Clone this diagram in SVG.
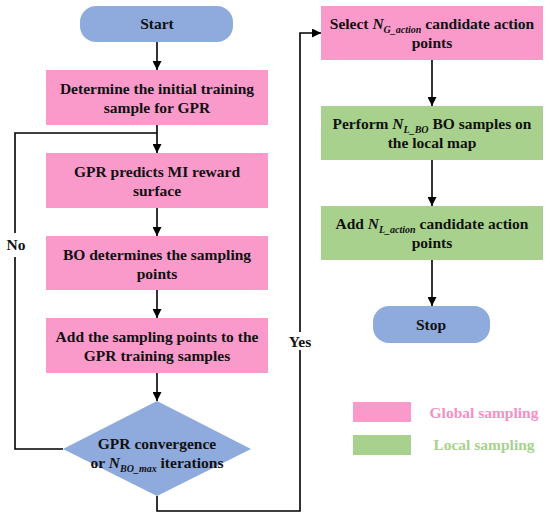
<svg xmlns="http://www.w3.org/2000/svg" width="550" height="518" viewBox="0 0 550 518">
<defs>
<marker id="arr" viewBox="0 0 10 10" refX="10" refY="5" markerWidth="9" markerHeight="9" markerUnits="userSpaceOnUse" orient="auto"><path d="M0,0 L10,5 L0,10 z" fill="#000"/></marker>
<style>
text{font-family:'Liberation Serif','Times New Roman','DejaVu Serif',serif}
.t{font-weight:bold;font-size:15.5px;fill:#111;text-anchor:middle}
.pink{fill:#FA9ACB}
.green{fill:#A9D18E}
.blue{fill:#8FAADC}
.ln{stroke:#000;stroke-width:1.6;fill:none}
.i{font-style:italic}
.sub{font-style:italic;font-size:10px}
</style>
</defs>
<rect width="550" height="518" fill="#fff"/>
<g id="connectors">
<line class="ln" x1="157" y1="42" x2="157" y2="70" marker-end="url(#arr)"/>
<line class="ln" x1="157" y1="125" x2="157" y2="153" marker-end="url(#arr)"/>
<line class="ln" x1="157" y1="208" x2="157" y2="236" marker-end="url(#arr)"/>
<line class="ln" x1="157" y1="290" x2="157" y2="318" marker-end="url(#arr)"/>
<line class="ln" x1="157" y1="373" x2="157" y2="401" marker-end="url(#arr)"/>
<polyline class="ln" points="63,449 15,449 15,133 157,133"/>
<polyline class="ln" points="157,496 157,511 300,511 300,33 321,33" marker-end="url(#arr)"/>
<line class="ln" x1="432" y1="60" x2="432" y2="106" marker-end="url(#arr)"/>
<line class="ln" x1="432" y1="160" x2="432" y2="206" marker-end="url(#arr)"/>
<line class="ln" x1="432" y1="260" x2="432" y2="306" marker-end="url(#arr)"/>
<rect x="5" y="233" width="22" height="24" fill="#fff"/>
<text class="t" x="16" y="250" font-family="Liberation Serif, serif">No</text>
<rect x="286" y="332" width="28" height="18" fill="#fff"/>
<text class="t" x="300" y="347">Yes</text>
</g>
<g id="start">
<rect class="blue" x="80" y="6" width="153" height="36" rx="16"/>
<text class="t" x="157" y="29">Start</text>
</g>
<g id="init">
<rect class="pink" x="46" y="70" width="222" height="55"/>
<text class="t" x="157" y="94">Determine the initial training</text>
<text class="t" x="157" y="113">sample for GPR</text>
</g>
<g id="predict">
<rect class="pink" x="46" y="153" width="222" height="55"/>
<text class="t" x="157" y="177">GPR predicts MI reward</text>
<text class="t" x="157" y="196">surface</text>
</g>
<g id="bo">
<rect class="pink" x="46" y="236" width="222" height="54"/>
<text class="t" x="157" y="260">BO determines the sampling</text>
<text class="t" x="157" y="279">points</text>
</g>
<g id="add">
<rect class="pink" x="46" y="318" width="222" height="55"/>
<text class="t" x="157" y="342">Add the sampling points to the</text>
<text class="t" x="157" y="361">GPR training samples</text>
</g>
<g id="decision">
<polygon class="blue" points="157,401 251,449 157,496 63,449"/>
<text class="t" x="157" y="449">GPR convergence</text>
<text class="t" x="157" y="468">or <tspan class="i">N</tspan><tspan class="sub" dy="4">BO_max</tspan><tspan dy="-4"> iterations</tspan></text>
</g>
<g id="select">
<rect class="pink" x="321" y="6" width="222" height="54"/>
<text class="t" x="432" y="29">Select <tspan class="i">N</tspan><tspan class="sub" dy="4">G_action</tspan><tspan dy="-4"> candidate action</tspan></text>
<text class="t" x="432" y="48">points</text>
</g>
<g id="perform">
<rect class="green" x="321" y="106" width="222" height="54"/>
<text class="t" x="432" y="129">Perform <tspan class="i">N</tspan><tspan class="sub" dy="4">L_BO</tspan><tspan dy="-4"> BO samples on</tspan></text>
<text class="t" x="432" y="148">the local map</text>
</g>
<g id="addlocal">
<rect class="green" x="321" y="206" width="222" height="54"/>
<text class="t" x="432" y="229">Add <tspan class="i">N</tspan><tspan class="sub" dy="4">L_action</tspan><tspan dy="-4"> candidate action</tspan></text>
<text class="t" x="432" y="248">points</text>
</g>
<g id="stop">
<rect class="blue" x="373" y="306" width="117" height="37" rx="16"/>
<text class="t" x="431" y="330">Stop</text>
</g>
<g id="legend">
<rect class="pink" x="353" y="402" width="58" height="20"/>
<text class="t" x="484" y="418" style="fill:#F590C2">Global sampling</text>
<rect class="green" x="353" y="435" width="58" height="20"/>
<text class="t" x="484" y="450" style="fill:#A9D18E">Local sampling</text>
</g>
</svg>
